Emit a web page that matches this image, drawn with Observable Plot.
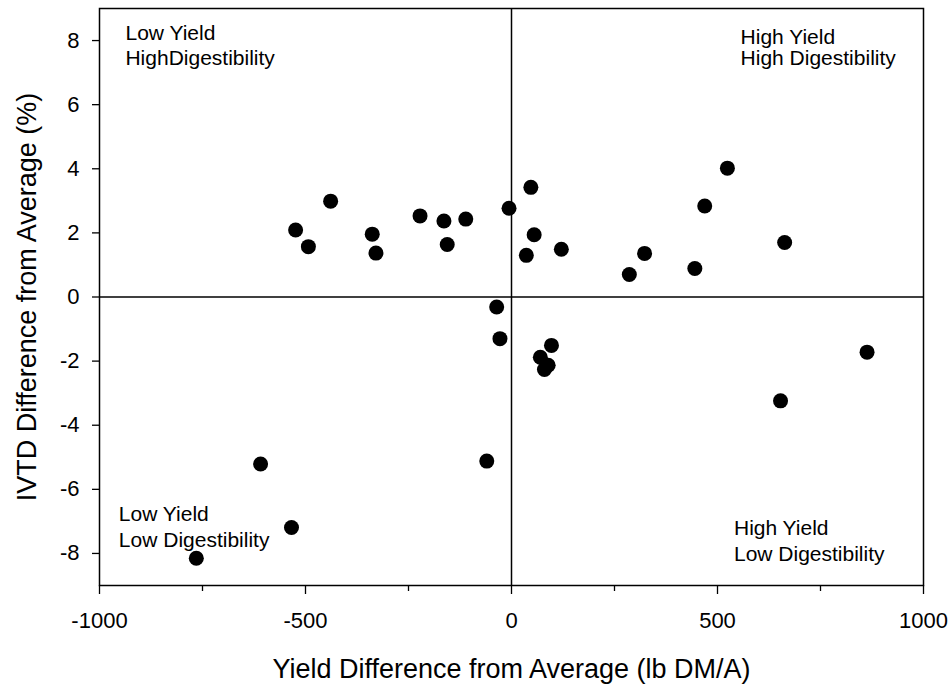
<!DOCTYPE html>
<html><head><meta charset="utf-8">
<script src="https://cdn.jsdelivr.net/npm/d3@7"></script>
<script src="https://cdn.jsdelivr.net/npm/@observablehq/plot@0.6"></script>
<style>body{margin:0;background:#fff}</style>
</head><body><div id="chart"></div>
<script>
// Yield difference (lb DM/A) and IVTD difference (%) for each entry
const xVals = [-524, -493, -439, -338, -329, -222, -164, -156, -111, -6, 36, 47, 55, 121, 286, 323, 445, 469, 524, 663, -36, -28, 70, 80, 89, 97, -60, -609, -534, -765, 653, 863];
const yVals = [2.09, 1.57, 2.99, 1.96, 1.37, 2.53, 2.37, 1.64, 2.43, 2.77, 1.30, 3.42, 1.94, 1.49, 0.70, 1.36, 0.89, 2.84, 4.02, 1.70, -0.31, -1.30, -1.88, -2.26, -2.13, -1.51, -5.12, -5.21, -7.19, -8.15, -3.24, -1.72];

const majorXTicks = [-1000, -500, 0, 500, 1000];
const minorXTicks = [-750, -250, 250, 750];
const yTicks = [-8, -6, -4, -2, 0, 2, 4, 6, 8];

const labelText = ["Low Yield", "HighDigestibility", "High Yield", "High Digestibility", "Low Yield", "Low Digestibility", "High Yield", "Low Digestibility"];
const labelX = [-937, -937, 556, 556, -953, -953, 540, 540];
const labelY = [8.47, 7.71, 8.37, 7.69, -6.51, -7.33, -6.96, -7.77];

const xTitle = "Yield Difference from Average (lb DM/A)";
const yTitle = "IVTD Difference from Average (%)";

const points = xVals.map((x, i) => ({x, y: yVals[i]}));
const labels = labelText.map((t, i) => ({t, x: labelX[i], y: labelY[i]}));
const font = "'Liberation Sans', Arial, Helvetica, sans-serif";

const chart = Plot.plot({
  width: 949, height: 685,
  marginLeft: 99, marginRight: 26, marginTop: 8, marginBottom: 100,
  style: {fontFamily: font, background: "white", color: "black"},
  x: {domain: [-1000, 1000]},
  y: {domain: [-9, 9]},
  marks: [
    Plot.ruleX([0], {stroke: "black", strokeWidth: 1.5}),
    Plot.ruleY([0], {stroke: "black", strokeWidth: 1.5}),
    Plot.dot(points, {x: "x", y: "y", r: 7.5, fill: "black", stroke: "none"}),
    Plot.text(labels, {x: "x", y: "y", text: "t", textAnchor: "start", lineAnchor: "top", fontSize: 21, fill: "black"}),
    Plot.axisX(majorXTicks, {tickSize: 9, tickPadding: 18, fontSize: 22, label: null, strokeWidth: 1.3, tickFormat: d => `${d}`}),
    Plot.axisX(minorXTicks, {tickSize: 6, tickFormat: () => "", label: null, strokeWidth: 1.3}),
    Plot.axisY(yTicks, {tickSize: 7, tickPadding: 13, fontSize: 22, label: null, strokeWidth: 1.3, tickFormat: d => `${d}`}),
    Plot.frame({stroke: "black", strokeWidth: 1.5}),
    Plot.text([xTitle], {frameAnchor: "bottom", dy: 92, lineAnchor: "bottom", fontSize: 27, fill: "black"}),
    Plot.text([yTitle], {frameAnchor: "left", dx: -64, rotate: -90, textAnchor: "middle", lineAnchor: "bottom", fontSize: 27, fill: "black"})
  ]
});
document.getElementById("chart").appendChild(chart);
</script>
</body></html>
